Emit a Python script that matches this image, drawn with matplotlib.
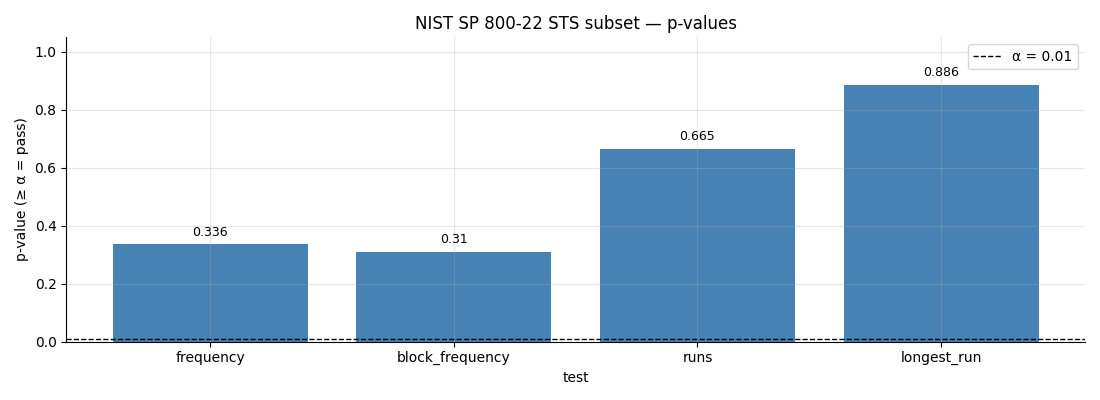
import numpy as np
from matplotlib import pyplot as plt

tests = ["frequency", "block_frequency", "runs", "longest_run"]
p_values = [0.336, 0.31, 0.665, 0.886]
labels = ["0.336", "0.31", "0.665", "0.886"]
alpha = 0.01

fig, ax = plt.subplots(figsize=(11, 4), dpi=100)
bars = ax.bar(tests, p_values, color="steelblue")
for b, txt in zip(bars, labels):
    ax.annotate(txt, (b.get_x() + b.get_width() / 2, b.get_height()),
                xytext=(0, 4), textcoords="offset points",
                ha="center", va="bottom", fontsize=9)
ax.axhline(alpha, color="black", linestyle="--", linewidth=1, label="α = 0.01")
ax.set_ylim(0, 1.05)
ax.set_title("NIST SP 800-22 STS subset — p-values")
ax.set_xlabel("test")
ax.set_ylabel("p-value (≥ α = pass)")
ax.grid(True, alpha=0.3)
ax.spines["top"].set_visible(False)
ax.spines["right"].set_visible(False)
ax.legend(loc="upper right")
plt.tight_layout()
plt.savefig("out.png", dpi=100)
